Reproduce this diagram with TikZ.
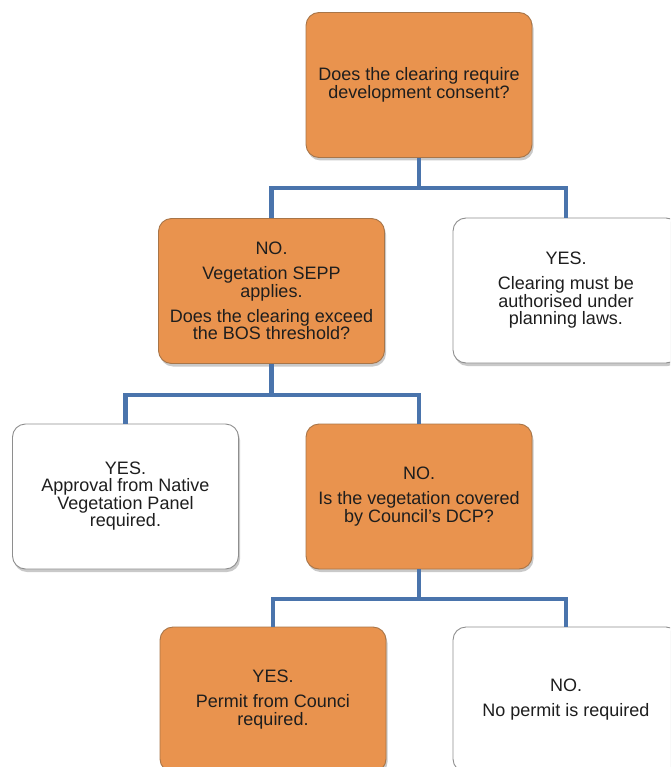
\documentclass[tikz,border=0pt]{standalone}
\usepackage{fontspec}
\setmainfont{Liberation Sans}
\usetikzlibrary{shadows}
\definecolor{boxorange}{HTML}{E9934E}
\definecolor{orangeedge}{HTML}{A87548}
\definecolor{greyedge}{HTML}{8E8E8E}
\definecolor{linkblue}{HTML}{4A74AC}
\definecolor{txt}{HTML}{1E1E1E}
\tikzset{
  box/.style={rectangle, rounded corners=13pt, minimum width=226pt, minimum height=145pt,
    inner sep=0pt, align=center, text=txt, line width=0.9pt,
    font=\fontsize{18pt}{17.5pt}\selectfont,
    drop shadow={shadow xshift=1.5pt, shadow yshift=-3pt, opacity=0.3, fill=black!70}},
  obox/.style={box, fill=boxorange, draw=orangeedge},
  wbox/.style={box, fill=white, draw=greyedge},
  link/.style={draw=linkblue, line width=4.5pt, line join=miter}
}
\begin{document}
\begin{tikzpicture}[x=1pt, y=-1pt]
\useasboundingbox (0,0) rectangle (670,767);
\clip (0,0) rectangle (670,767);
\node[obox] (b1) at (419,85) {Does the clearing require\\development consent?};
\node[obox] (b2) at (271.5,291) {NO.\\[7.5pt]Vegetation SEPP\\applies.\\[7.5pt]Does the clearing exceed\\the BOS threshold?};
\node[wbox] (b3) at (566,290.5) {YES.\\[7.5pt]Clearing must be\\authorised under\\planning laws.};
\node[wbox, font=\fontsize{18pt}{16.5pt}\selectfont] (b4) at (125.5,496.5) {YES.\\Approval from Native\\Vegetation Panel\\required.};
\node[obox] (b5) at (419,496.5) {NO.\\[7.5pt]Is the vegetation covered\\by Council\char"27 s DCP?};
\node[obox] (b6) at (273,699.5) {YES.\\[7.5pt]Permit from Counci\\required.};
\node[wbox] (b7) at (566,699.5) {NO.\\[7.5pt]No permit is required};
\coordinate (j1) at (419,188);
\coordinate (j2) at (271.5,395);
\coordinate (j3) at (419,599);
\path[link] (b1.south) -- (j1);
\path[link] (b2.north) |- (j1) -| (b3.north);
\path[link] (b2.south) -- (j2);
\path[link] (b4.north) |- (j2) -| (b5.north);
\path[link] (b5.south) -- (j3);
\path[link] (b6.north) |- (j3) -| (b7.north);
\end{tikzpicture}
\end{document}
